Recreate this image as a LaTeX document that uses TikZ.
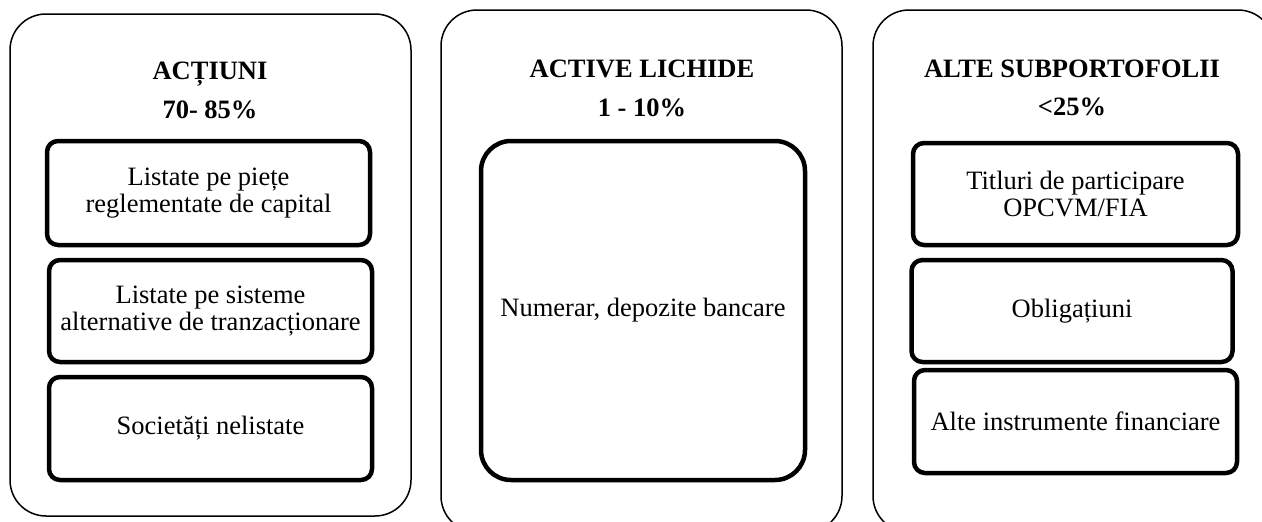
\documentclass[tikz,border=0pt]{standalone}
\usepackage{fontspec}
\setmainfont{Liberation Serif}
\begin{document}
\begin{tikzpicture}[x=1pt,y=-1pt,
  outerbox/.style={draw, line width=1.5pt, rounded corners=36pt, inner sep=0pt},
  innerbox/.style={draw, line width=4.5pt, rounded corners=11pt, inner sep=0pt, align=center,
    font=\fontsize{26.5}{27}\selectfont},
  titletext/.style={anchor=base, inner sep=0pt, font=\fontsize{26.5}{28}\selectfont\bfseries}]
\useasboundingbox (0,0) rectangle (1262,522);
\clip (0,0) rectangle (1262,522);
% outer panels
\node[outerbox, minimum width=401pt, minimum height=502pt] (left) at (210.5,265) {};
\node[outerbox, minimum width=401pt, minimum height=522pt] (mid) at (641.5,271) {};
\node[outerbox, minimum width=401pt, minimum height=522pt] (right) at (1073.5,271) {};
% titles
\node[titletext] (t1) at (210,79) {ACȚIUNI};
\node[titletext] (p1) at (210,118) {70- 85\%};
\node[titletext] (t2) at (642,77) {ACTIVE LICHIDE};
\node[titletext] (p2) at (642,116) {1 - 10\%};
\node[titletext] (t3) at (1072,77) {ALTE SUBPORTOFOLII};
\node[titletext] (p3) at (1072,115) {<25\%};
% left inner boxes
\node[innerbox, minimum width=323pt, minimum height=104pt] (l1) at (208.5,193) {Listate pe piețe\\reglementate de capital};
\node[innerbox, minimum width=323pt, minimum height=102pt] (l2) at (210.5,311) {Listate pe sisteme\\alternative de tranzacționare};
\node[innerbox, minimum width=323pt, minimum height=103pt] (l3) at (210.5,428.5) {Societăți nelistate};
% middle inner box
\node[innerbox, rounded corners=30pt, minimum width=324pt, minimum height=339pt] (m1) at (643,310.5) {Numerar, depozite bancare};
% right inner boxes
\node[innerbox, minimum width=325pt, minimum height=102pt] (r1) at (1075.5,194) {Titluri de participare\\OPCVM/FIA};
\node[innerbox, minimum width=321pt, minimum height=102pt] (r2) at (1072,311) {Obligațiuni};
\node[innerbox, minimum width=323pt, minimum height=103pt] (r3) at (1075.5,421.5) {Alte instrumente financiare};
\end{tikzpicture}
\end{document}
